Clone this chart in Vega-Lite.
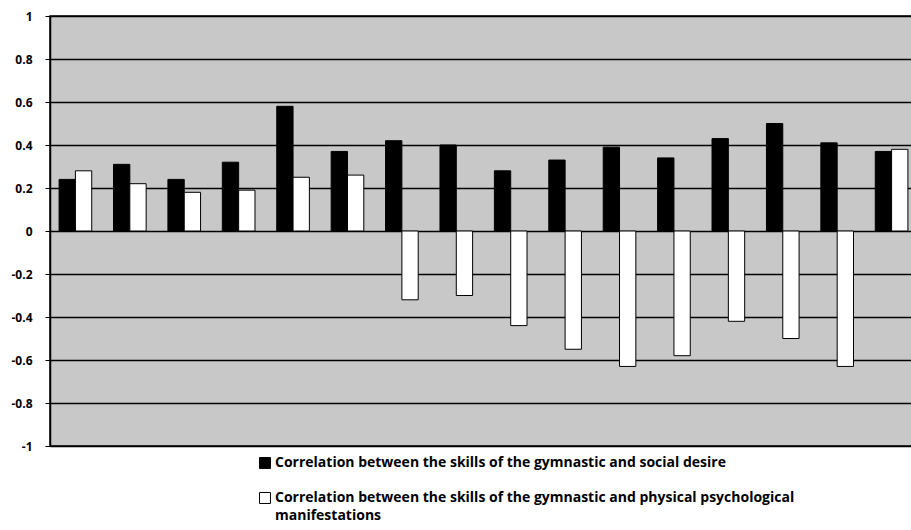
{
  "$schema": "https://vega.github.io/schema/vega-lite/v6.json",
  "autosize": "none",
  "width": 867,
  "height": 430,
  "padding": {"left": 50, "top": 16, "right": 0, "bottom": 84},
  "background": "#ffffff",
  "config": {
    "view": {"fill": "#c8c8c8", "stroke": "#000000", "strokeWidth": 1.5},
    "font": "Open Sans"
  },
  "data": {
    "values": [
      {"group": 1, "series": "Correlation between the skills of the gymnastic and social desire", "value": 0.24},
      {"group": 1, "series": "Correlation between the skills of the gymnastic and physical psychological manifestations", "value": 0.28},
      {"group": 2, "series": "Correlation between the skills of the gymnastic and social desire", "value": 0.31},
      {"group": 2, "series": "Correlation between the skills of the gymnastic and physical psychological manifestations", "value": 0.22},
      {"group": 3, "series": "Correlation between the skills of the gymnastic and social desire", "value": 0.24},
      {"group": 3, "series": "Correlation between the skills of the gymnastic and physical psychological manifestations", "value": 0.18},
      {"group": 4, "series": "Correlation between the skills of the gymnastic and social desire", "value": 0.32},
      {"group": 4, "series": "Correlation between the skills of the gymnastic and physical psychological manifestations", "value": 0.19},
      {"group": 5, "series": "Correlation between the skills of the gymnastic and social desire", "value": 0.58},
      {"group": 5, "series": "Correlation between the skills of the gymnastic and physical psychological manifestations", "value": 0.25},
      {"group": 6, "series": "Correlation between the skills of the gymnastic and social desire", "value": 0.37},
      {"group": 6, "series": "Correlation between the skills of the gymnastic and physical psychological manifestations", "value": 0.26},
      {"group": 7, "series": "Correlation between the skills of the gymnastic and social desire", "value": 0.42},
      {"group": 7, "series": "Correlation between the skills of the gymnastic and physical psychological manifestations", "value": -0.32},
      {"group": 8, "series": "Correlation between the skills of the gymnastic and social desire", "value": 0.4},
      {"group": 8, "series": "Correlation between the skills of the gymnastic and physical psychological manifestations", "value": -0.3},
      {"group": 9, "series": "Correlation between the skills of the gymnastic and social desire", "value": 0.28},
      {"group": 9, "series": "Correlation between the skills of the gymnastic and physical psychological manifestations", "value": -0.44},
      {"group": 10, "series": "Correlation between the skills of the gymnastic and social desire", "value": 0.33},
      {"group": 10, "series": "Correlation between the skills of the gymnastic and physical psychological manifestations", "value": -0.55},
      {"group": 11, "series": "Correlation between the skills of the gymnastic and social desire", "value": 0.39},
      {"group": 11, "series": "Correlation between the skills of the gymnastic and physical psychological manifestations", "value": -0.63},
      {"group": 12, "series": "Correlation between the skills of the gymnastic and social desire", "value": 0.34},
      {"group": 12, "series": "Correlation between the skills of the gymnastic and physical psychological manifestations", "value": -0.58},
      {"group": 13, "series": "Correlation between the skills of the gymnastic and social desire", "value": 0.43},
      {"group": 13, "series": "Correlation between the skills of the gymnastic and physical psychological manifestations", "value": -0.42},
      {"group": 14, "series": "Correlation between the skills of the gymnastic and social desire", "value": 0.5},
      {"group": 14, "series": "Correlation between the skills of the gymnastic and physical psychological manifestations", "value": -0.5},
      {"group": 15, "series": "Correlation between the skills of the gymnastic and social desire", "value": 0.41},
      {"group": 15, "series": "Correlation between the skills of the gymnastic and physical psychological manifestations", "value": -0.63},
      {"group": 16, "series": "Correlation between the skills of the gymnastic and social desire", "value": 0.37},
      {"group": 16, "series": "Correlation between the skills of the gymnastic and physical psychological manifestations", "value": 0.38}
    ]
  },
  "mark": {"type": "bar", "stroke": "#000000", "strokeWidth": 1},
  "encoding": {
    "x": {
      "field": "group",
      "type": "ordinal",
      "scale": {"paddingInner": 0.4, "paddingOuter": 0.167},
      "axis": null
    },
    "xOffset": {
      "field": "series",
      "type": "nominal",
      "sort": null
    },
    "y": {
      "field": "value",
      "type": "quantitative",
      "scale": {"domain": [-1, 1], "nice": false},
      "axis": {
        "values": [-1, -0.8, -0.6, -0.4, -0.2, 0, 0.2, 0.4, 0.6, 0.8, 1],
        "labelExpr": "replace(format(datum.value, '~g'), '\u2212', '-')",
        "labelFontWeight": "bold",
        "labelFontSize": 12,
        "labelColor": "#000000",
        "labelPadding": 13,
        "tickSize": 5,
        "tickColor": "#000000",
        "domainColor": "#000000",
        "domainWidth": 1.5,
        "gridColor": "#000000",
        "gridWidth": 1.5,
        "gridOpacity": 1,
        "title": null
      }
    },
    "fill": {
      "field": "series",
      "type": "nominal",
      "sort": null,
      "scale": {"range": ["#000000", "#ffffff"]},
      "legend": {
        "title": null,
        "orient": "none",
        "legendX": 208,
        "legendY": 440,
        "direction": "vertical",
        "symbolType": "square",
        "symbolSize": 120,
        "symbolStrokeColor": "#000000",
        "symbolStrokeWidth": 1,
        "symbolOffset": 0,
        "labelFontSize": 14,
        "labelFontWeight": "bold",
        "labelColor": "#000000",
        "labelLimit": 800,
        "labelOffset": 3,
        "labelBaseline": "top",
        "rowPadding": 19,
        "labelExpr": "datum.label == 'Correlation between the skills of the gymnastic and physical psychological manifestations' ? ['Correlation between the skills of the gymnastic and physical psychological', 'manifestations'] : datum.label",
        "encode": {
          "labels": {"update": {"dy": {"value": -7}, "lineHeight": {"value": 18}}}
        }
      }
    }
  }
}
